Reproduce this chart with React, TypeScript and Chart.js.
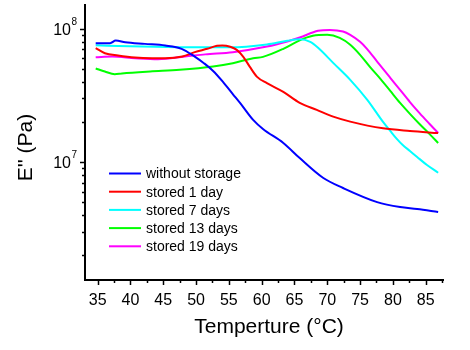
import React, { useEffect, useRef } from 'react';
import { Chart, registerables } from 'chart.js';

Chart.register(...registerables);

// ---- data ----
const seriesLabels = ['without storage', 'stored 1 day', 'stored 7 days', 'stored 13 days', 'stored 19 days'];
const seriesColors = ['#0000ff', '#ff0000', '#00ffff', '#00ff00', '#ff00ff'];

const tempWithout = [34.7, 36.9, 37.75, 39.2, 42.2, 45.3, 47.8, 49.8, 51.2, 52.6, 54.1, 55.6, 56.7, 58.7, 60.2, 63.3, 65.8, 69.4, 72.4, 77.6, 81.1, 83.7, 86.9];
const valWithout = [7.8e7, 7.8e7, 8.16e7, 7.94e7, 7.71e7, 7.49e7, 7.08e7, 6.19e7, 5.52e7, 4.83e7, 4.0e7, 3.24e7, 2.78e7, 2.07e7, 1.77e7, 1.39e7, 1.07e7, 7.58e6, 6.38e6, 5.0e6, 4.59e6, 4.44e6, 4.21e6];

const temp1Day = [34.7, 36.1, 38.1, 40.7, 43.3, 45.3, 47.9, 49.8, 51.7, 53.2, 54.0, 55.2, 56.2, 57.2, 58.2, 59.3, 60.8, 63.3, 65.8, 68.4, 70.9, 73.5, 78.5, 82.6, 86.9];
const val1Day = [7.16e7, 6.56e7, 6.3e7, 6.08e7, 6.02e7, 6.02e7, 6.19e7, 6.68e7, 7.08e7, 7.45e7, 7.49e7, 7.33e7, 6.95e7, 6.16e7, 5.18e7, 4.36e7, 3.91e7, 3.36e7, 2.78e7, 2.46e7, 2.19e7, 2.01e7, 1.79e7, 1.71e7, 1.65e7];

const temp7Days = [34.7, 39.9, 47.5, 55.2, 60.8, 63.9, 65.8, 67.4, 68.6, 70.9, 73.5, 76.1, 78.5, 79.6, 80.6, 81.5, 82.6, 83.7, 85.2, 86.9];
const val7Days = [7.52e7, 7.39e7, 7.28e7, 7.26e7, 7.64e7, 8.13e7, 8.34e7, 7.98e7, 7.2e7, 5.55e7, 4.14e7, 2.93e7, 2.0e7, 1.71e7, 1.49e7, 1.34e7, 1.21e7, 1.09e7, 9.49e6, 8.31e6];

const temp13Days = [34.7, 36.1, 37.6, 38.7, 43.0, 47.5, 52.6, 55.6, 58.7, 60.2, 63.3, 65.8, 67.8, 70.0, 71.9, 73.5, 75.0, 76.5, 78.1, 79.6, 81.1, 82.6, 84.1, 85.6, 86.9];
const val13Days = [5.04e7, 4.78e7, 4.56e7, 4.62e7, 4.78e7, 4.92e7, 5.21e7, 5.52e7, 6.02e7, 6.16e7, 7.08e7, 8.2e7, 8.86e7, 9.01e7, 8.55e7, 7.59e7, 6.38e7, 5.18e7, 4.21e7, 3.42e7, 2.78e7, 2.3e7, 1.92e7, 1.62e7, 1.39e7];

const temp19Days = [34.7, 37.2, 40.7, 44.2, 48.3, 51.4, 55.6, 60.8, 63.9, 65.8, 68.6, 70.4, 72.4, 73.5, 75.0, 76.05, 77.6, 79.6, 81.1, 82.6, 84.1, 85.6, 86.9];
const val19Days = [6.13e7, 6.19e7, 6.02e7, 5.92e7, 6.19e7, 6.43e7, 6.68e7, 7.36e7, 8.04e7, 8.6e7, 9.66e7, 9.82e7, 9.55e7, 9.01e7, 7.99e7, 7.08e7, 5.68e7, 4.29e7, 3.48e7, 2.82e7, 2.32e7, 1.93e7, 1.65e7];

const seriesTemps = [tempWithout, temp1Day, temp7Days, temp13Days, temp19Days];
const seriesValues = [valWithout, val1Day, val7Days, val13Days, val19Days];

const xMajorTicks = [35, 40, 45, 50, 55, 60, 65, 70, 75, 80, 85];
const xMinorTicks = [37.5, 42.5, 47.5, 52.5, 57.5, 62.5, 67.5, 72.5, 77.5, 82.5, 87.5];
const yMajorTicks = [1e7, 1e8];
const yMajorExponents = ['7', '8'];
const yMinorTicks = [2e6, 3e6, 4e6, 5e6, 6e6, 7e6, 8e6, 9e6, 2e7, 3e7, 4e7, 5e7, 6e7, 7e7, 8e7, 9e7];
const xTitle = 'Temperture (\u00B0C)';
const yTitle = "E'' (Pa)";

const FONT = '"Liberation Sans", Arial, Helvetica, sans-serif';

const decorPlugin = {
  id: 'decor',
  afterDraw(chart: any) {
    const { ctx, chartArea: ca, scales } = chart;
    const xs = scales.x;
    const ys = scales.y;
    ctx.save();
    ctx.strokeStyle = '#000';
    ctx.fillStyle = '#000';
    ctx.lineWidth = 1.5;

    // x ticks
    const drawX = (v: number, len: number) => {
      const px = Math.round(xs.getPixelForValue(v)) + 0.5;
      ctx.beginPath();
      ctx.moveTo(px, ca.bottom);
      ctx.lineTo(px, ca.bottom + len);
      ctx.stroke();
    };
    xMajorTicks.forEach((v) => drawX(v, 5));
    xMinorTicks.forEach((v) => { if (v <= xs.max) drawX(v, 3); });

    // y ticks
    const drawY = (v: number, len: number) => {
      const py = Math.round(ys.getPixelForValue(v)) + 0.5;
      ctx.beginPath();
      ctx.moveTo(ca.left, py);
      ctx.lineTo(ca.left - len, py);
      ctx.stroke();
    };
    yMajorTicks.forEach((v) => drawY(v, 5));
    yMinorTicks.forEach((v) => { if (v >= ys.min && v <= ys.max) drawY(v, 3); });

    // x tick labels
    ctx.font = `16px ${FONT}`;
    ctx.textAlign = 'center';
    ctx.textBaseline = 'alphabetic';
    xMajorTicks.forEach((v) => {
      ctx.fillText(String(v), xs.getPixelForValue(v), ca.bottom + 25);
    });

    // y tick labels with superscript exponent
    yMajorTicks.forEach((v, i) => {
      const py = ys.getPixelForValue(v);
      ctx.font = `16px ${FONT}`;
      ctx.textAlign = 'right';
      ctx.fillText('10', 71, py + 6);
      ctx.font = `10px ${FONT}`;
      ctx.textAlign = 'left';
      ctx.fillText(yMajorExponents[i], 71.5, py - 4);
    });

    // axis titles
    ctx.font = `21px ${FONT}`;
    ctx.textAlign = 'center';
    ctx.fillText(xTitle, 269, 333);
    ctx.save();
    ctx.translate(31.5, 147.5);
    ctx.rotate(-Math.PI / 2);
    ctx.fillText(yTitle, 0, 0);
    ctx.restore();

    // legend
    ctx.font = `14px ${FONT}`;
    ctx.textAlign = 'left';
    ctx.textBaseline = 'middle';
    ctx.lineWidth = 2;
    seriesLabels.forEach((lab, i) => {
      const y = 173.5 + i * 18.2;
      ctx.strokeStyle = seriesColors[i];
      ctx.beginPath();
      ctx.moveTo(109, y);
      ctx.lineTo(141, y);
      ctx.stroke();
      ctx.fillStyle = '#000';
      ctx.fillText(lab, 146, y + 1);
    });
    ctx.restore();
  },
};

export default function App() {
  const ref = useRef<HTMLCanvasElement | null>(null);
  useEffect(() => {
    if (!ref.current) return;
    const chart = new Chart(ref.current, {
      type: 'line',
      data: {
        datasets: seriesLabels.map((label, i) => ({
          label,
          data: seriesTemps[i].map((t, j) => ({ x: t, y: seriesValues[i][j] })),
          borderColor: seriesColors[i],
          backgroundColor: seriesColors[i],
          borderWidth: 2,
          pointRadius: 0,
          cubicInterpolationMode: 'monotone' as const,
          fill: false,
        })),
      },
      options: {
        animation: false,
        responsive: false,
        maintainAspectRatio: false,
        layout: { padding: { top: 5, right: 27, left: 0, bottom: 0 } },
        plugins: { legend: { display: false }, tooltip: { enabled: false } },
        events: [],
        scales: {
          x: {
            type: 'linear',
            min: 33.07,
            max: 87.64,
            ticks: { display: false },
            grid: { display: false },
            border: { display: true, color: '#000', width: 2 },
            afterFit: (s: any) => { s.height = 70; },
          },
          y: {
            type: 'logarithmic',
            min: 1.3e6,
            max: 1.51e8,
            ticks: { display: false },
            grid: { display: false },
            border: { display: true, color: '#000', width: 2 },
            afterFit: (s: any) => { s.width = 85; },
          },
        },
      },
      plugins: [decorPlugin],
    } as any);
    return () => chart.destroy();
  }, []);
  return (
    <div style={{ position: 'absolute', left: 0, top: 0, width: 470, height: 350, background: '#fff' }}>
      <canvas ref={ref} width={470} height={350} style={{ width: 470, height: 350, display: 'block' }} />
    </div>
  );
}
